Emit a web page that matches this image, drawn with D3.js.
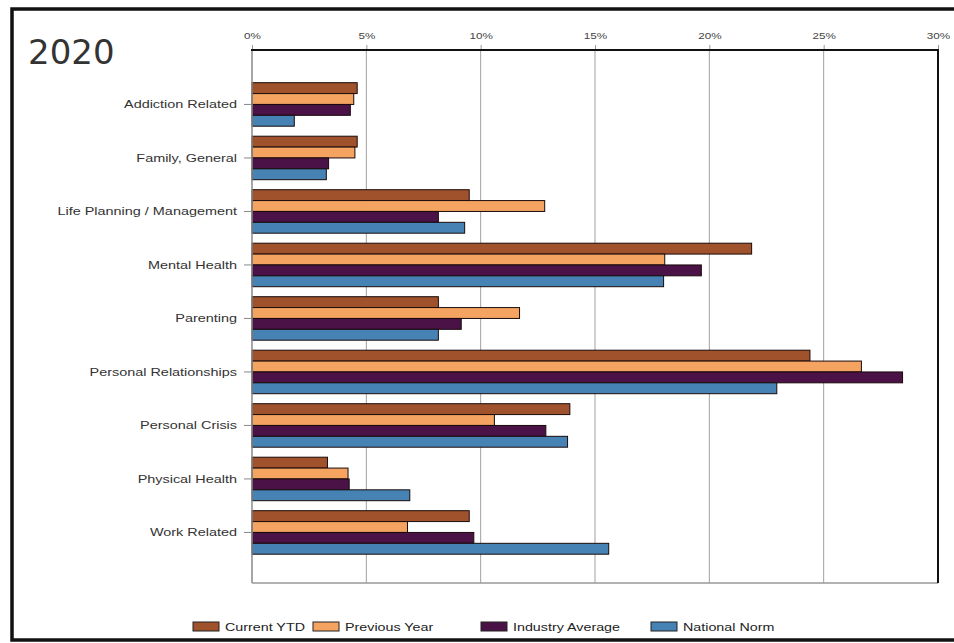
<!DOCTYPE html>
<html>
<head>
<meta charset="utf-8">
<script src="https://cdn.jsdelivr.net/npm/d3@7"></script>
<style>
  html, body { margin: 0; padding: 0; background: #fff; }
  svg { display: block; }
  text { font-family: "Liberation Sans", Arial, sans-serif; }
</style>
</head>
<body>
<script>
const categories = ["Addiction Related", "Family, General", "Life Planning / Management", "Mental Health", "Parenting", "Personal Relationships", "Personal Crisis", "Physical Health", "Work Related"];
const seriesNames = ["Current YTD", "Previous Year", "Industry Average", "National Norm"];
const currentYTD = [4.6, 4.6, 9.5, 21.85, 8.15, 24.4, 13.9, 3.3, 9.5];
const previousYear = [4.45, 4.5, 12.8, 18.05, 11.7, 26.65, 10.6, 4.2, 6.8];
const industryAverage = [4.3, 3.35, 8.15, 19.65, 9.15, 28.45, 12.85, 4.25, 9.7];
const nationalNorm = [1.85, 3.25, 9.3, 18.0, 8.15, 22.95, 13.8, 6.9, 15.6];
const tickValues = [0, 5, 10, 15, 20, 25, 30];
const tickLabels = ["0%", "5%", "10%", "15%", "20%", "25%", "30%"];
const colors = ["#a0522d", "#f4a460", "#4b1248", "#4682b4"];
const title = "2020";

const seriesValues = [currentYTD, previousYear, industryAverage, nationalNorm];
const W = 954, H = 643;
const svg = d3.select("body").append("svg").attr("width", W).attr("height", H);

// outer frame
svg.append("rect").attr("x", 12).attr("y", 9).attr("width", 980).attr("height", 631)
  .attr("fill", "#fff").attr("stroke", "#111").attr("stroke-width", 3.5);

const plot = { left: 252, right: 938, top: 50, bottom: 583 };
const x = d3.scaleLinear().domain([0, 30]).range([plot.left, plot.right]);
const y = d3.scaleBand().domain(categories).range([77.7, 559.2]).paddingInner(0.187).paddingOuter(0.0935);
const ys = d3.scaleBand().domain(seriesNames).range([0, y.bandwidth()]);

const SX = 1.3;

// title
svg.append("text").attr("x", 28).attr("y", 64).text(title)
  .style("font-family", "'DejaVu Sans', sans-serif").attr("font-size", 34).attr("fill", "#333");

// gridlines
svg.append("g").selectAll("line").data(tickValues.slice(1, -1)).join("line")
  .attr("x1", d => x(d)).attr("x2", d => x(d)).attr("y1", plot.top).attr("y2", plot.bottom)
  .attr("stroke", "#a0a0a0").attr("stroke-width", 1);

// top axis
const topAxis = svg.append("g").attr("transform", `translate(0,${plot.top})`)
  .call(d3.axisTop(x).tickValues(tickValues).tickSize(5).tickFormat((d, i) => tickLabels[i]));
topAxis.select(".domain").remove();
topAxis.selectAll(".tick line").attr("stroke", "#999");
topAxis.selectAll(".tick text").attr("font-size", 9).attr("fill", "#444").attr("y", -11)
  .attr("transform", `scale(${SX},1)`).attr("x", 0)
  .style("font-family", "'Liberation Sans', Arial, sans-serif");

// bars
const groups = svg.append("g").selectAll("g").data(categories).join("g")
  .attr("transform", d => `translate(0,${y(d)})`);
groups.selectAll("rect").data((c, ci) => seriesNames.map((s, si) => ({ s, si, v: seriesValues[si][ci] })))
  .join("rect")
  .attr("x", x(0)).attr("y", d => ys(d.s))
  .attr("width", d => x(d.v) - x(0)).attr("height", ys.bandwidth())
  .attr("fill", d => colors[d.si]).attr("stroke", "#1a0a0a").attr("stroke-width", 1);

// left axis
const leftAxis = svg.append("g").attr("transform", `translate(${plot.left},0)`)
  .call(d3.axisLeft(y).tickSize(8).tickPadding(0));
leftAxis.select(".domain").remove();
leftAxis.selectAll(".tick line").attr("stroke", "#888");
leftAxis.selectAll(".tick text")
  .attr("x", 0).attr("dy", "0.35em")
  .attr("transform", `translate(-15,0) scale(${SX},1)`)
  .attr("font-size", 11.1).attr("fill", "#333")
  .style("font-family", "'Liberation Sans', Arial, sans-serif");

// plot frame
svg.append("line").attr("x1", plot.left).attr("x2", plot.left).attr("y1", plot.top).attr("y2", plot.bottom)
  .attr("stroke", "#888").attr("stroke-width", 1.5);
svg.append("line").attr("x1", plot.left).attr("x2", plot.right).attr("y1", plot.bottom).attr("y2", plot.bottom)
  .attr("stroke", "#999").attr("stroke-width", 1.5);
svg.append("line").attr("x1", plot.left - 1).attr("x2", plot.right + 1).attr("y1", plot.top).attr("y2", plot.top)
  .attr("stroke", "#111").attr("stroke-width", 2);
svg.append("line").attr("x1", plot.right).attr("x2", plot.right).attr("y1", plot.top).attr("y2", plot.bottom)
  .attr("stroke", "#111").attr("stroke-width", 2);

// legend
const legendX = [193, 313, 481, 651];
const legend = svg.append("g").selectAll("g").data(seriesNames).join("g")
  .attr("transform", (d, i) => `translate(${legendX[i]},622)`);
legend.append("rect").attr("width", 26).attr("height", 9)
  .attr("fill", (d, i) => colors[i]).attr("stroke", "#222").attr("stroke-width", 1);
legend.append("text").attr("transform", `translate(32,8.5) scale(${SX},1)`)
  .attr("font-size", 11).attr("fill", "#222").text(d => d);
</script>
</body>
</html>
